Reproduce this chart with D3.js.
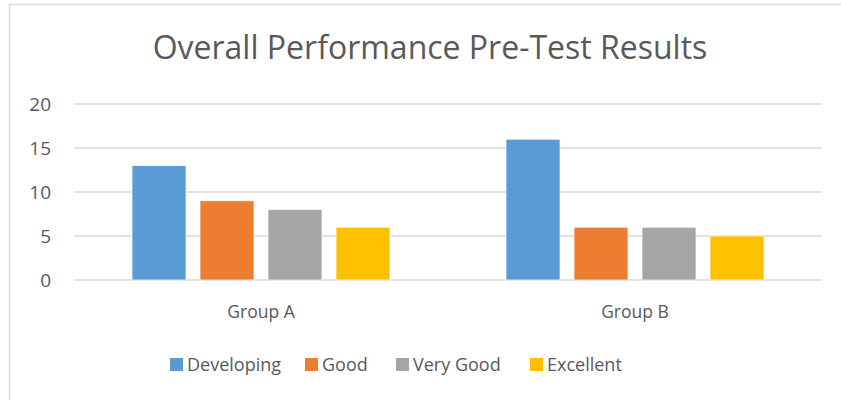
<!DOCTYPE html>
<html>
<head>
<meta charset="utf-8">
<script src="https://cdn.jsdelivr.net/npm/d3@7"></script>
<style>
  body { margin: 0; background: #fff; }
  svg { display: block; font-family: "Open Sans", "Noto Sans", sans-serif; }
</style>
</head>
<body>
<svg id="chart" width="841" height="400"></svg>
<script>
// chart data
const groups = ['Group A', 'Group B'];
const seriesNames = ['Developing', 'Good', 'Very Good', 'Excellent'];
const seriesColors = ['#5B9BD5', '#ED7D31', '#A5A5A5', '#FFC000'];
const groupAValues = [13, 9, 8, 6];
const groupBValues = [16, 6, 6, 5];
const yTicks = [0, 5, 10, 15, 20];

const rows = [groupAValues, groupBValues].map((vals, gi) => ({
  group: groups[gi],
  items: vals.map((v, si) => ({ name: seriesNames[si], value: v, color: seriesColors[si] }))
}));

const svg = d3.select('#chart');
const W = 841, H = 400;

// frame lines (top + left only visible in the crop)
svg.append('line').attr('x1', 9).attr('x2', W).attr('y1', 4.5).attr('y2', 4.5)
  .attr('stroke', '#d9d9d9').attr('stroke-width', 1.5);
svg.append('line').attr('x1', 9.5).attr('x2', 9.5).attr('y1', 4).attr('y2', H)
  .attr('stroke', '#d9d9d9').attr('stroke-width', 1.5);

const plot = { left: 74, right: 822, top: 104, bottom: 280 };

const x0 = d3.scaleBand().domain(groups).range([plot.left, plot.right]);
const x1 = d3.scaleBand().domain(seriesNames)
  .range([0, x0.bandwidth()]).paddingInner(0.206).paddingOuter(0.853);
const y = d3.scaleLinear().domain([0, 20]).range([plot.bottom, plot.top]);

// gridlines
svg.append('g').selectAll('line').data(yTicks).enter().append('line')
  .attr('x1', plot.left).attr('x2', plot.right)
  .attr('y1', d => y(d)).attr('y2', d => y(d))
  .attr('stroke', '#d9d9d9').attr('stroke-width', 1.3);

// y labels
const yAxis = d3.axisLeft(y).tickValues(yTicks).tickSize(0).tickPadding(0);
const yg = svg.append('g').attr('transform', `translate(51,0)`).call(yAxis);
yg.select('.domain').remove();
yg.selectAll('text').attr('fill', '#595959').style('font-size', '19px')
  .style('font-family', '"Open Sans", sans-serif');

// bars
const gBars = svg.append('g').selectAll('g').data(rows).enter().append('g')
  .attr('transform', d => `translate(${x0(d.group)},0)`);
gBars.selectAll('rect').data(d => d.items).enter().append('rect')
  .attr('x', d => x1(d.name))
  .attr('width', x1.bandwidth())
  .attr('y', d => y(d.value))
  .attr('height', d => y(0) - y(d.value))
  .attr('fill', d => d.color)
  .attr('stroke', '#fff').attr('stroke-width', 0.7);

// group labels
svg.append('g').selectAll('text').data(groups).enter().append('text')
  .attr('x', d => x0(d) + x0.bandwidth() / 2)
  .attr('y', 318)
  .attr('text-anchor', 'middle')
  .attr('fill', '#595959').style('font-size', '17.5px')
  .text(d => d);

// title
svg.append('text').attr('x', 430).attr('y', 59).attr('text-anchor', 'middle')
  .attr('fill', '#595959').style('font-size', '32px')
  .text('Overall Performance Pre-Test Results');

// legend
const legendX = [170, 305, 396, 530];
const lg = svg.append('g').selectAll('g').data(seriesNames).enter().append('g')
  .attr('transform', (d, i) => `translate(${legendX[i]},358)`);
lg.append('rect').attr('width', 13).attr('height', 13)
  .attr('fill', (d, i) => seriesColors[i]);
lg.append('text').attr('x', 17).attr('y', 13)
  .attr('fill', '#595959').style('font-size', '18px')
  .text(d => d);
</script>
</body>
</html>
